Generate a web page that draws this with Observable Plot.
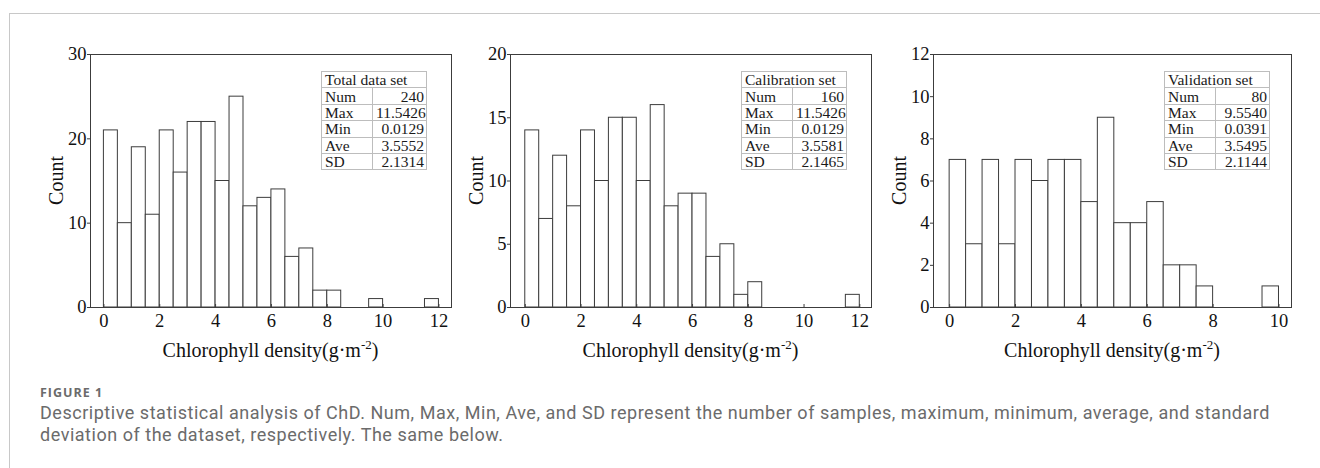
<!DOCTYPE html>
<html><head><meta charset="utf-8">
<script src="https://cdn.jsdelivr.net/npm/d3@7"></script>
<script src="https://cdn.jsdelivr.net/npm/@observablehq/plot@0.6"></script>
<style>
body{margin:0;width:1320px;height:468px;background:#fff;position:relative;overflow:hidden;font-family:"Liberation Serif",serif}
#frame{position:absolute;left:9px;top:13px;right:-5px;bottom:-5px;border-left:1px solid #c8c8c8;border-top:1px solid #c8c8c8}
.panel{position:absolute;top:40px}
.panel svg{overflow:visible}
.panel svg g[aria-label$="tick label"]{font-size:18.5px !important}
table.stat{position:absolute;top:71px;width:105px;border-collapse:collapse;table-layout:fixed;font-family:"Liberation Serif",serif;font-size:15.5px;color:#1a1a1a;background:#fff}
table.stat td{border:1px solid #bdbdbd;padding:0 2px 0 3px;height:15.4px;line-height:15px;white-space:nowrap;overflow:hidden}
table.stat td.v{text-align:right}
#fig{position:absolute;left:40px;top:385.5px;font-family:"Open Sans",sans-serif;font-weight:700;font-size:12.5px;line-height:13px;color:#6b6b6b;letter-spacing:1px}
.cap{position:absolute;left:40px;font-family:Roboto,sans-serif;font-size:18px;line-height:18px;color:#6b6b6b;white-space:nowrap}
</style>
</head><body>
<div id="frame"></div>
<div id="charts"></div>
<div id="fig">FIGURE 1</div>
<div class="cap" id="cap1" style="top:404.3px">Descriptive statistical analysis of ChD. Num, Max, Min, Ave, and SD represent the number of samples, maximum, minimum, average, and standard</div>
<div class="cap" id="cap2" style="top:425.8px">deviation of the dataset, respectively. The same below.</div>
<script>
// ---- data ----
const binWidth = 0.5; // bins start at 0
const totalCounts = [21,10,19,11,21,16,22,22,15,25,12,13,14,6,7,2,2,0,0,1,0,0,0,1];
const calibCounts = [14,7,12,8,14,10,15,15,10,16,8,9,9,4,5,1,2,0,0,0,0,0,0,1];
const validCounts = [7,3,7,3,7,6,7,7,5,9,4,4,5,2,2,1,0,0,0,1];

const statNames = ["Num","Max","Min","Ave","SD"];
const totalStats = ["240","11.5426","0.0129","3.5552","2.1314"];
const calibStats = ["160","11.5426","0.0129","3.5581","2.1465"];
const validStats = ["80","9.5540","0.0391","3.5495","2.1144"];

const tableTitles = ["Total data set","Calibration set","Validation set"];
const xTicks12 = [0,2,4,6,8,10,12];
const xTicks10 = [0,2,4,6,8,10];
const yTicks30 = [0,10,20,30];
const yTicks20 = [0,5,10,15,20];
const yTicks12 = [0,2,4,6,8,10,12];
const xLabelMain = "Chlorophyll density(g·m";
const xLabelSup = "-2";
const yLabel = "Count";

// ---- caption: spread letters so the first line spans the reference width ----
(function fitCaption() {
  const c1 = document.getElementById("cap1"), c2 = document.getElementById("cap2");
  const w = c1.getBoundingClientRect().width;
  const target = 1230;
  const ls = Math.max(0, (target - w) / c1.textContent.length);
  c1.style.letterSpacing = ls + "px";
  c2.style.letterSpacing = ls + "px";
})();

// ---- layout ----
const panels = [
  {counts: totalCounts, stats: totalStats, title: tableTitles[0], xDomain: [-0.48, 12.45], xTicks: xTicks12, yDomain: [0,30], yTicks: yTicks30, left: 30, plotW: 361},
  {counts: calibCounts, stats: calibStats, title: tableTitles[1], xDomain: [-0.53, 12.42], xTicks: xTicks12, yDomain: [0,20], yTicks: yTicks20, left: 450, plotW: 361},
  {counts: validCounts, stats: validStats, title: tableTitles[2], xDomain: [-0.49, 10.38], xTicks: xTicks10, yDomain: [0,12], yTicks: yTicks12, left: 873, plotW: 358}
];
const mL = 60, mR = 10, mT = 14, mB = 60, H = 327;
const charts = document.getElementById("charts");

panels.forEach(p => {
  const bins = p.counts.map((c, i) => ({x1: i * binWidth, x2: (i + 1) * binWidth, count: c})).filter(d => d.count > 0);
  const plot = Plot.plot({
    width: mL + p.plotW + mR, height: H,
    marginLeft: mL, marginRight: mR, marginTop: mT, marginBottom: mB,
    x: {domain: p.xDomain},
    y: {domain: p.yDomain},
    style: {fontFamily: "Liberation Serif, serif", fontSize: "18.5px", color: "#111", background: "transparent", overflow: "visible"},
    marks: [
      Plot.rectY(bins, {x1: "x1", x2: "x2", y: "count", fill: "white", stroke: "#3c3c3c", strokeWidth: 1}),
      Plot.frame({stroke: "#3c3c3c"}),
      Plot.axisY({ticks: p.yTicks, tickSize: 3, tickPadding: 1, label: null, fontSize: 18.5, stroke: "#3c3c3c"}),
      Plot.axisX({ticks: p.xTicks, tickSize: -3, tickPadding: 9, label: null, fontSize: 18.5, stroke: "#3c3c3c"})
    ]
  });
  const wrap = document.createElement("div");
  wrap.className = "panel";
  wrap.style.left = p.left + "px";
  wrap.appendChild(plot);
  charts.appendChild(wrap);

  const svg = d3.select(plot);
  const [r0, r1] = plot.scale("x").range;
  const yr = plot.scale("y").range;
  const xl = svg.append("text")
    .attr("x", (r0 + r1) / 2).attr("y", H - mB + 50)
    .attr("text-anchor", "middle").attr("font-size", 20).attr("fill", "#111")
    .attr("font-family", "Liberation Serif, serif");
  xl.append("tspan").text(xLabelMain);
  xl.append("tspan").attr("dy", -8).attr("font-size", 13).text(xLabelSup);
  xl.append("tspan").attr("dy", 8).text(")");
  svg.append("text")
    .attr("transform", `translate(${mL - 34},${(yr[0] + yr[1]) / 2}) rotate(-90)`)
    .attr("text-anchor", "middle").attr("dy", "0.35em")
    .attr("font-size", 20).attr("fill", "#111")
    .attr("font-family", "Liberation Serif, serif")
    .text(yLabel);

  // stats table
  const t = document.createElement("table");
  t.className = "stat";
  t.style.left = (p.left + mL + 231) + "px";
  const cg = document.createElement("colgroup");
  cg.innerHTML = '<col style="width:51px"><col style="width:54px">';
  t.appendChild(cg);
  const tb = document.createElement("tbody");
  const hr = document.createElement("tr");
  const hd = document.createElement("td");
  hd.colSpan = 2; hd.textContent = p.title;
  hr.appendChild(hd); tb.appendChild(hr);
  statNames.forEach((n, i) => {
    const tr = document.createElement("tr");
    const a = document.createElement("td"); a.textContent = n;
    const b = document.createElement("td"); b.className = "v"; b.textContent = p.stats[i];
    tr.appendChild(a); tr.appendChild(b); tb.appendChild(tr);
  });
  t.appendChild(tb);
  charts.appendChild(t);
});
</script>
</body></html>
